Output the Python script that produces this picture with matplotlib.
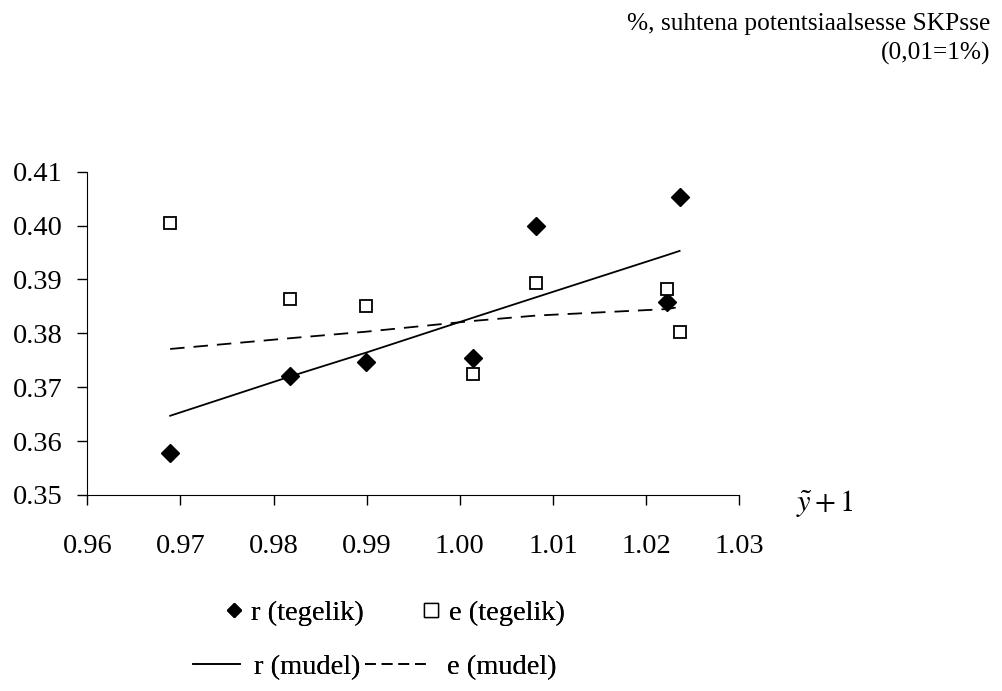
import matplotlib
matplotlib.use("Agg")
import matplotlib.pyplot as plt
from matplotlib.lines import Line2D

plt.rcParams['font.family'] = ['Liberation Serif', 'DejaVu Serif']
plt.rcParams['mathtext.fontset'] = 'stix'

# data
x_vals = [0.9689, 0.9818, 0.9899, 1.0014, 1.0082, 1.0222, 1.0236]
r_actual = [0.3578, 0.3721, 0.3747, 0.3755, 0.3999, 0.3859, 0.4053]
e_actual = [0.4004, 0.3864, 0.3850, 0.3725, 0.3894, 0.3883, 0.3803]
r_model = [0.3647, 0.3720, 0.3764, 0.3829, 0.3867, 0.3945, 0.3953]
e_model = [0.3771, 0.3791, 0.3803, 0.3823, 0.3833, 0.3845, 0.3849]

x_ticks = [0.96, 0.97, 0.98, 0.99, 1.00, 1.01, 1.02, 1.03]
y_ticks = [0.35, 0.36, 0.37, 0.38, 0.39, 0.40, 0.41]

fig = plt.figure(figsize=(10.03, 6.91), dpi=100)
ax = fig.add_axes([0.087, 0.2837, 0.650, 0.4678])

ax.plot(x_vals, r_model, color='black', lw=1.3)
ax.plot(x_vals, e_model, color='black', lw=1.3, dashes=(8, 5))
ax.plot(x_vals, r_actual, linestyle='none', marker='D', markersize=8.8, color='black')
ax.plot(x_vals, e_actual, linestyle='none', marker='s', markersize=9.2,
        markerfacecolor='white', markeredgecolor='black', markeredgewidth=1.3)

ax.set_xlim(0.96, 1.03)
ax.set_ylim(0.35, 0.41)
ax.set_xticks(x_ticks)
ax.set_xticklabels([f'{v:.2f}' for v in x_ticks])
ax.set_yticks(y_ticks)
ax.set_yticklabels([f'{v:.2f}' for v in y_ticks])
ax.tick_params(direction='out', length=7, width=1, labelsize=20.5)
ax.tick_params(axis='x', pad=21)
ax.tick_params(axis='y', pad=10.5)
ax.spines['top'].set_visible(False)
ax.spines['right'].set_visible(False)

fig.text(0.823, 0.271, r'$\tilde{y}+1$', fontsize=22, ha='center', va='center')

fig.text(0.987, 1 - 30 / 691, '%, suhtena potentsiaalsesse SKPsse', fontsize=18.3,
         ha='right', va='baseline')
fig.text(0.987, 1 - 60 / 691, '(0,01=1%)', fontsize=18.3, ha='right', va='baseline')

# legend entries placed one by one like the original layout
fs = 20.5
row1 = 1 - 613 / 691
row2 = 1 - 667 / 691
entries = [
    (Line2D([], [], linestyle='none', marker='D', markersize=7.6, color='black'),
     'r (tegelik)', 222.6, row1, 0.8, 0.2),
    (Line2D([], [], linestyle='none', marker='s', markersize=9.5,
            markerfacecolor='white', markeredgecolor='black', markeredgewidth=1),
     'e (tegelik)', 419.4, row1, 0.8, 0.23),
    (Line2D([], [], color='black', lw=1.2), 'r (mudel)', 193, row2, 1.65, 0.49),
    (Line2D([], [], color='black', lw=1.2, dashes=(6.5, 3.5)), 'e (mudel)', 365, row2, 2.18, 0.7),
]
for handle, label, xpix, ypos, hlen, hpad in entries:
    leg = fig.legend([handle], [label], frameon=False, loc='center left',
                     bbox_to_anchor=(xpix / 1003, ypos), fontsize=fs,
                     borderpad=0, borderaxespad=0, handlelength=hlen,
                     handletextpad=hpad)
    fig.add_artist(leg)

fig.savefig('out.png', dpi=100)
